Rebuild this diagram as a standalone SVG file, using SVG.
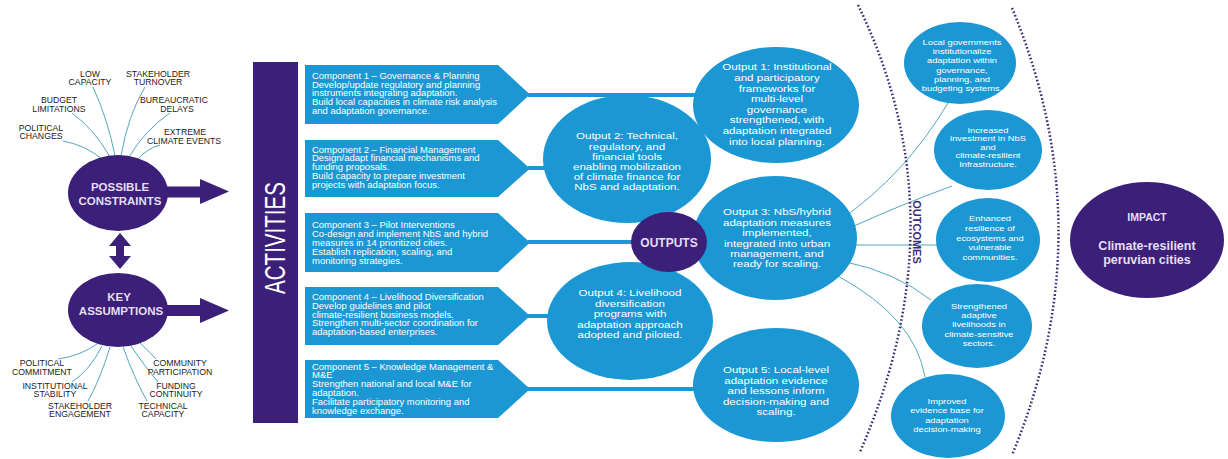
<svg xmlns="http://www.w3.org/2000/svg" width="1228" height="459" viewBox="0 0 1228 459">
<style>
.bg{fill:#ffffff}
.blue{fill:#1b98d3}
.purple{fill:#3c1f78}
.lbl{font-family:'Liberation Sans',Arial,sans-serif;font-size:8.7px;fill:#222222;text-anchor:middle}
.thin{fill:none;stroke:#4fa9ba;stroke-width:1}
.flow{fill:none;stroke:#1b98d3;stroke-width:4}
.dot{fill:none;stroke:#3b2a78;stroke-width:2.5;stroke-dasharray:1.6 2.2}
.ct{font-family:'Liberation Sans',Arial,sans-serif;font-size:8.4px;fill:#ffffff}
.ot{font-family:'Liberation Sans',Arial,sans-serif;font-size:9.5px;fill:#ffffff;text-anchor:middle}
.oc{font-family:'Liberation Sans',Arial,sans-serif;font-size:8px;fill:#ffffff;text-anchor:middle}
.pt{font-family:'Liberation Sans',Arial,sans-serif;font-weight:bold;fill:#e4def4;text-anchor:middle}
</style>
<rect class="bg" x="0" y="0" width="1228" height="459"/>

<g id="connectors">
  <path class="thin" d="M63,141 Q85,145 102,159"/>
  <path class="thin" d="M72,113 Q95,130 110,157"/>
  <path class="thin" d="M93,87 Q108,120 115,156"/>
  <path class="thin" d="M145,87 Q128,115 121,156"/>
  <path class="thin" d="M170,113 Q145,130 129,157"/>
  <path class="thin" d="M160,145 Q148,148 138,159"/>
  <path class="thin" d="M97,344 Q80,356 58,359"/>
  <path class="thin" d="M102,346 Q90,370 72,382"/>
  <path class="thin" d="M110,347 Q100,380 88,401"/>
  <path class="thin" d="M123,347 Q135,380 147,401"/>
  <path class="thin" d="M131,346 Q146,368 158,382"/>
  <path class="thin" d="M140,343 Q150,352 156,359"/>
  <polygon class="purple" points="160,186.5 200,186.5 200,179 229,191.5 200,204 200,197.5 160,197.5"/>
  <polygon class="purple" points="160,305 200,305 200,298 229,310.5 200,323 200,316 160,316"/>
  <polygon class="purple" points="120,233 131,246 124,246 124,256 131,256 120,269 109,256 116,256 116,246 109,246"/>
  <path class="flow" d="M528,95 H720"/>
  <path class="flow" d="M528,168 H580"/>
  <path class="flow" d="M528,242 H660"/>
  <path class="flow" d="M528,316 H580"/>
  <path class="flow" d="M528,389 H720"/>
  <path class="thin" d="M840,220 Q905,175 948,103"/>
  <path class="thin" d="M845,230 Q900,205 952,186"/>
  <path class="thin" d="M850,245 L938,245"/>
  <path class="thin" d="M846,262 Q895,272 931,300"/>
  <path class="thin" d="M838,276 Q915,318 925,377"/>
  <path class="dot" d="M858,5 Q962,218 860,452"/>
  <path class="dot" d="M1012,8 Q1105,232 1012,455"/>
</g>

<g id="constraint-labels">
  <text class="lbl" x="90" y="76.5">LOW</text>
  <text class="lbl" x="90" y="85">CAPACITY</text>
  <text class="lbl" x="158" y="76.5">STAKEHOLDER</text>
  <text class="lbl" x="158" y="85">TURNOVER</text>
  <text class="lbl" x="59" y="103">BUDGET</text>
  <text class="lbl" x="59" y="111.5">LIMITATIONS</text>
  <text class="lbl" x="174" y="103">BUREAUCRATIC</text>
  <text class="lbl" x="177" y="111.5">DELAYS</text>
  <text class="lbl" x="41" y="130.5">POLITICAL</text>
  <text class="lbl" x="41" y="139">CHANGES</text>
  <text class="lbl" x="185" y="135">EXTREME</text>
  <text class="lbl" x="184" y="143.5">CLIMATE EVENTS</text>
</g>

<g id="assumption-labels">
  <text class="lbl" x="42" y="366">POLITICAL</text>
  <text class="lbl" x="42" y="374.5">COMMITMENT</text>
  <text class="lbl" x="55" y="388.5">INSTITUTIONAL</text>
  <text class="lbl" x="55" y="397">STABILITY</text>
  <text class="lbl" x="80" y="408.5">STAKEHOLDER</text>
  <text class="lbl" x="80" y="417">ENGAGEMENT</text>
  <text class="lbl" x="180" y="366">COMMUNITY</text>
  <text class="lbl" x="180" y="374.5">PARTICIPATION</text>
  <text class="lbl" x="176" y="388.5">FUNDING</text>
  <text class="lbl" x="176" y="397">CONTINUITY</text>
  <text class="lbl" x="163" y="408.5">TECHNICAL</text>
  <text class="lbl" x="163" y="417">CAPACITY</text>
</g>

<g id="possible-constraints">
  <ellipse class="purple" cx="118" cy="193" rx="50" ry="38"/>
  <text class="pt" x="120" y="191" font-size="11.5">POSSIBLE</text>
  <text class="pt" x="120" y="204.5" font-size="11.5">CONSTRAINTS</text>
</g>

<g id="key-assumptions">
  <ellipse class="purple" cx="118" cy="310" rx="50" ry="37"/>
  <text class="pt" x="119" y="301" font-size="11.5">KEY</text>
  <text class="pt" x="121" y="314.5" font-size="11.5">ASSUMPTIONS</text>
</g>

<g id="activities">
  <rect class="purple" x="253" y="62" width="45" height="361"/>
  <text transform="translate(285,238) rotate(-90)" text-anchor="middle" font-family="'Liberation Sans',Arial,sans-serif" font-size="30" fill="#ffffff" textLength="112" lengthAdjust="spacingAndGlyphs">ACTIVITIES</text>
</g>

<g id="component-1">
  <polygon class="blue" points="305,65 498,65 530,94.5 498,124 305,124"/>
  <g transform="translate(312,0) scale(1.13,1)">
    <text class="ct" x="0" y="79">Component 1 – Governance &amp; Planning</text>
    <text class="ct" x="0" y="88">Develop/update regulatory and planning</text>
    <text class="ct" x="0" y="96.5">instruments integrating adaptation.</text>
    <text class="ct" x="0" y="105.5">Build local capacities in climate risk analysis</text>
    <text class="ct" x="0" y="114">and adaptation governance.</text>
  </g>
</g>

<g id="component-2">
  <polygon class="blue" points="305,140 498,140 530,168.5 498,197 305,197"/>
  <g transform="translate(312,0) scale(1.13,1)">
    <text class="ct" x="0" y="153">Component 2 – Financial Management</text>
    <text class="ct" x="0" y="161.5">Design/adapt financial mechanisms and</text>
    <text class="ct" x="0" y="170.5">funding proposals.</text>
    <text class="ct" x="0" y="179">Build capacity to prepare investment</text>
    <text class="ct" x="0" y="188">projects with adaptation focus.</text>
  </g>
</g>

<g id="component-3">
  <polygon class="blue" points="305,213 498,213 530,242.5 498,272 305,272"/>
  <g transform="translate(312,0) scale(1.13,1)">
    <text class="ct" x="0" y="228">Component 3 – Pilot Interventions</text>
    <text class="ct" x="0" y="237">Co-design and implement NbS and hybrid</text>
    <text class="ct" x="0" y="246">measures in 14 prioritized cities.</text>
    <text class="ct" x="0" y="255">Establish replication, scaling, and</text>
    <text class="ct" x="0" y="264">monitoring strategies.</text>
  </g>
</g>

<g id="component-4">
  <polygon class="blue" points="305,287 498,287 530,316 498,345 305,345"/>
  <g transform="translate(312,0) scale(1.13,1)">
    <text class="ct" x="0" y="300">Component 4 – Livelihood Diversification</text>
    <text class="ct" x="0" y="309">Develop guidelines and pilot</text>
    <text class="ct" x="0" y="318">climate-resilient business models.</text>
    <text class="ct" x="0" y="326.5">Strengthen multi-sector coordination for</text>
    <text class="ct" x="0" y="335">adaptation-based enterprises.</text>
  </g>
</g>

<g id="component-5">
  <polygon class="blue" points="305,360 498,360 530,389 498,418 305,418"/>
  <g transform="translate(312,0) scale(1.13,1)">
    <text class="ct" x="0" y="370">Component 5 – Knowledge Management &amp;</text>
    <text class="ct" x="0" y="378.5">M&amp;E</text>
    <text class="ct" x="0" y="387.5">Strengthen national and local M&amp;E for</text>
    <text class="ct" x="0" y="396">adaptation.</text>
    <text class="ct" x="0" y="405">Facilitate participatory monitoring and</text>
    <text class="ct" x="0" y="414">knowledge exchange.</text>
  </g>
</g>

<g id="output-1">
  <ellipse class="blue" cx="776" cy="105" rx="83" ry="58"/>
  <g transform="translate(777,0) scale(1.22,1)">
    <text class="ot" x="0" y="70.5">Output 1: Institutional</text>
    <text class="ot" x="0" y="81.5">and participatory</text>
    <text class="ot" x="0" y="92">frameworks for</text>
    <text class="ot" x="0" y="102.5">multi-level</text>
    <text class="ot" x="0" y="113">governance</text>
    <text class="ot" x="0" y="123.5">strengthened, with</text>
    <text class="ot" x="0" y="134.2">adaptation integrated</text>
    <text class="ot" x="0" y="145">into local planning.</text>
  </g>
</g>

<g id="output-2">
  <ellipse class="blue" cx="627" cy="159" rx="84" ry="64"/>
  <g transform="translate(627,0) scale(1.22,1)">
    <text class="ot" x="0" y="139.5">Output 2: Technical,</text>
    <text class="ot" x="0" y="149.7">regulatory, and</text>
    <text class="ot" x="0" y="159.9">financial tools</text>
    <text class="ot" x="0" y="170.1">enabling mobilization</text>
    <text class="ot" x="0" y="180.3">of climate finance for</text>
    <text class="ot" x="0" y="190.5">NbS and adaptation.</text>
  </g>
</g>

<g id="output-3">
  <ellipse class="blue" cx="775" cy="238" rx="82" ry="62"/>
  <g transform="translate(777,0) scale(1.22,1)">
    <text class="ot" x="0" y="215.5">Output 3: NbS/hybrid</text>
    <text class="ot" x="0" y="225.9">adaptation measures</text>
    <text class="ot" x="0" y="236.3">implemented,</text>
    <text class="ot" x="0" y="246.7">integrated into urban</text>
    <text class="ot" x="0" y="257.1">management, and</text>
    <text class="ot" x="0" y="267.5">ready for scaling.</text>
  </g>
</g>

<g id="output-4">
  <ellipse class="blue" cx="630" cy="321" rx="83" ry="59"/>
  <g transform="translate(630,0) scale(1.22,1)">
    <text class="ot" x="0" y="296.5">Output 4: Livelihood</text>
    <text class="ot" x="0" y="306.9">diversification</text>
    <text class="ot" x="0" y="317.3">programs with</text>
    <text class="ot" x="0" y="327.7">adaptation approach</text>
    <text class="ot" x="0" y="338.1">adopted and piloted.</text>
  </g>
</g>

<g id="output-5">
  <ellipse class="blue" cx="776" cy="385" rx="83" ry="57"/>
  <g transform="translate(776,0) scale(1.22,1)">
    <text class="ot" x="0" y="373.5">Output 5: Local-level</text>
    <text class="ot" x="0" y="384">adaptation evidence</text>
    <text class="ot" x="0" y="394.5">and lessons inform</text>
    <text class="ot" x="0" y="405">decision-making and</text>
    <text class="ot" x="0" y="415.5">scaling.</text>
  </g>
</g>

<g id="outputs-hub">
  <ellipse class="purple" cx="669" cy="242" rx="38" ry="30"/>
  <text class="pt" x="669" y="246.5" font-size="12">OUTPUTS</text>
</g>

<g id="outcomes-label">
  <text transform="translate(913,232) rotate(90)" text-anchor="middle" font-family="'Liberation Sans',Arial,sans-serif" font-weight="bold" font-size="11" fill="#3b2a78">OUTCOMES</text>
</g>

<g id="outcome-1">
  <ellipse class="blue" cx="960" cy="63" rx="56" ry="41"/>
  <g transform="translate(962,0) scale(1.17,1)">
    <text class="oc" x="0" y="45">Local governments</text>
    <text class="oc" x="0" y="54.2">institutionalize</text>
    <text class="oc" x="0" y="63.4">adaptation within</text>
    <text class="oc" x="0" y="72.6">governance,</text>
    <text class="oc" x="0" y="81.8">planning, and</text>
    <text class="oc" x="0" y="91">budgeting systems.</text>
  </g>
</g>

<g id="outcome-2">
  <ellipse class="blue" cx="988" cy="150" rx="54" ry="40"/>
  <g transform="translate(988,0) scale(1.17,1)">
    <text class="oc" x="0" y="133">Increased</text>
    <text class="oc" x="0" y="141.5">investment in NbS</text>
    <text class="oc" x="0" y="150">and</text>
    <text class="oc" x="0" y="158.5">climate-resilient</text>
    <text class="oc" x="0" y="167">Infrastructure.</text>
  </g>
</g>

<g id="outcome-3">
  <ellipse class="blue" cx="988" cy="240" rx="52" ry="42"/>
  <g transform="translate(990,0) scale(1.17,1)">
    <text class="oc" x="0" y="221">Enhanced</text>
    <text class="oc" x="0" y="230.8">resilience of</text>
    <text class="oc" x="0" y="240.6">ecosystems and</text>
    <text class="oc" x="0" y="250.4">vulnerable</text>
    <text class="oc" x="0" y="260.2">communities.</text>
  </g>
</g>

<g id="outcome-4">
  <ellipse class="blue" cx="977" cy="326" rx="55" ry="42"/>
  <g transform="translate(979,0) scale(1.17,1)">
    <text class="oc" x="0" y="309">Strengthened</text>
    <text class="oc" x="0" y="318.2">adaptive</text>
    <text class="oc" x="0" y="327.4">livelihoods in</text>
    <text class="oc" x="0" y="336.6">climate-sensitive</text>
    <text class="oc" x="0" y="345.8">sectors.</text>
  </g>
</g>

<g id="outcome-5">
  <ellipse class="blue" cx="948" cy="416" rx="57" ry="42"/>
  <g transform="translate(947,0) scale(1.17,1)">
    <text class="oc" x="0" y="404">Improved</text>
    <text class="oc" x="0" y="413.5">evidence base for</text>
    <text class="oc" x="0" y="423">adaptation</text>
    <text class="oc" x="0" y="432.5">decision-making</text>
  </g>
</g>

<g id="impact">
  <ellipse class="purple" cx="1147" cy="240" rx="77" ry="58"/>
  <text class="pt" x="1147" y="221" font-size="10.5">IMPACT</text>
  <text class="pt" x="1147" y="250" font-size="12.5">Climate-resilient</text>
  <text class="pt" x="1147" y="263.5" font-size="12.5">peruvian cities</text>
</g>
</svg>
